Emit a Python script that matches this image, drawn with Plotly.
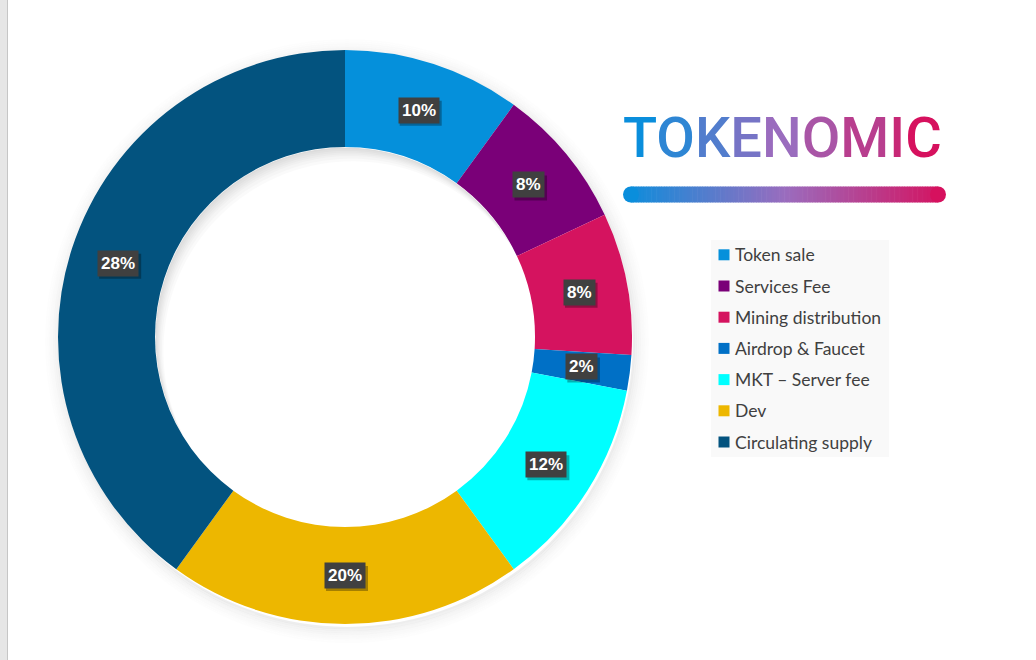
import numpy as np
import plotly.graph_objects as go

# ---------------- data ----------------
categories = ["Token sale", "Services Fee", "Mining distribution", "Airdrop & Faucet",
              "MKT – Server fee", "Dev", "Circulating supply"]
shares = [10, 8, 8, 2, 12, 20, 40]
share_labels = ["10%", "8%", "8%", "2%", "12%", "20%", "28%"]
colors = ["#0590DB", "#7A0078", "#D5135F", "#0070C6", "#00FFFF", "#EDB700", "#03537F"]
title_text = "TOKENOMIC"
gradient_stops = ["#0A8EDC", "#9A6CBE", "#D6115E"]

# ---------------- geometry (pixels) ----------------
W, H = 1036, 660
CX, CY, R_OUT = 345, 337, 287
HOLE = 0.662
R_IN = R_OUT * HOLE
LABEL_SIZE = 17


def hex2rgb(h):
    h = h.lstrip("#")
    return np.array([int(h[i:i + 2], 16) for i in (0, 2, 4)], dtype=float)


def grad(t):
    stops = [hex2rgb(s) for s in gradient_stops]
    seg = t * (len(stops) - 1)
    i = min(int(seg), len(stops) - 2)
    f = seg - i
    c = stops[i] * (1 - f) + stops[i + 1] * f
    return "rgb(%d,%d,%d)" % tuple(np.round(c).astype(int))


def text_width(s, size):
    w = {"%": 0.889}
    return sum(w.get(ch, 0.556) for ch in s) * size


fig = go.Figure()

fig.add_trace(go.Pie(
    labels=categories, values=shares, sort=False, direction="clockwise",
    rotation=0, hole=HOLE, textinfo="none", showlegend=False,
    marker=dict(colors=colors, line=dict(width=0)),
    domain=dict(x=[(CX - R_OUT) / W, (CX + R_OUT) / W],
                y=[(H - CY - R_OUT) / H, (H - CY + R_OUT) / H]),
    hoverinfo="label+percent",
))

shapes = []
annotations = []

# left grey strip
shapes.append(dict(type="rect", xref="x", yref="y", x0=0, x1=7, y0=0, y1=H,
                   fillcolor="#E6E6E6", line=dict(width=0), layer="below"))
shapes.append(dict(type="line", xref="x", yref="y", x0=7.5, x1=7.5, y0=0, y1=H,
                   line=dict(color="#C6C6C6", width=1), layer="below"))

# soft outer shadow of the ring
for k, a in zip(range(0, 16, 2), [0.07, 0.055, 0.045, 0.035, 0.025, 0.018, 0.012, 0.007]):
    r = R_OUT + k
    ox, oy = CX + 2, CY + 4
    shapes.append(dict(type="circle", xref="x", yref="y", x0=ox - r, x1=ox + r,
                       y0=oy - r, y1=oy + r, line=dict(color="rgba(0,0,0,%.3f)" % a, width=2.2),
                       fillcolor="rgba(0,0,0,0)", layer="below"))


# inner shadow in the hole (crescents on the upper-left side)
def crescent(d, r, ang):
    phi0 = np.arccos(min(d / (2 * r), 1.0))
    ta = np.linspace(phi0, 2 * np.pi - phi0, 120)
    pa = np.c_[r * np.cos(ta), r * np.sin(ta)]
    tb = np.linspace(np.pi + phi0, np.pi - phi0, 120)
    pb = np.c_[d + r * np.cos(tb), r * np.sin(tb)]
    pts = np.vstack([pa, pb])
    c, s = np.cos(ang), np.sin(ang)
    x = CX + pts[:, 0] * c - pts[:, 1] * s
    y = CY + pts[:, 0] * s + pts[:, 1] * c
    return "M " + " L ".join("%.2f,%.2f" % (a, b) for a, b in zip(x, y)) + " Z"


for d in [2, 4, 6, 8, 10, 13, 16]:
    shapes.append(dict(type="path", xref="x", yref="y", path=crescent(d, R_IN - 0.5, np.deg2rad(60)),
                       fillcolor="rgba(0,0,0,0.02)", line=dict(width=0), layer="above"))

# data labels on the ring (with a drop shadow box)
total = sum(shares)
cum = np.cumsum([0] + shares[:-1])
r_mid = (R_OUT + R_IN) / 2
for v, c0, lab in zip(shares, cum, share_labels):
    th = 2 * np.pi * (c0 + v / 2) / total
    x = CX + r_mid * np.sin(th)
    y = CY - r_mid * np.cos(th)
    bw = text_width(lab, LABEL_SIZE) + 8
    bhh = 25
    shapes.append(dict(type="rect", xref="x", yref="y",
                       x0=x - bw / 2 + 2, x1=x + bw / 2 + 2, y0=y - bhh / 2 + 3, y1=y + bhh / 2 + 3,
                       fillcolor="rgba(0,0,0,0.30)", line=dict(width=0), layer="above"))
    annotations.append(dict(x=x, y=y, xref="x", yref="y", text="<b>%s</b>" % lab,
                            showarrow=False, bgcolor="#404040", borderpad=3,
                            font=dict(family="Liberation Sans, Arial", size=LABEL_SIZE, color="white")))

# gradient title
n = len(title_text)
title_html = "".join('<span style="color:%s">%s</span>' % (grad(i / (n - 1)), ch)
                     for i, ch in enumerate(title_text))
annotations.append(dict(x=621, y=138, xref="x", yref="y", xanchor="left", yanchor="middle",
                        text=title_html, showarrow=False,
                        font=dict(family="Roboto", size=56, weight=500, color="#0A8EDC")))

# gradient bar under title
bx0, bx1, by, bh = 623, 946, 194.5, 16
rr = bh / 2
nseg = 120
xs = np.linspace(bx0 + rr, bx1 - rr, nseg + 1)
for i in range(nseg):
    t = (xs[i] - bx0) / (bx1 - bx0)
    shapes.append(dict(type="rect", xref="x", yref="y", x0=xs[i] - 0.3, x1=xs[i + 1] + 0.3,
                       y0=by - rr, y1=by + rr, fillcolor=grad(t), line=dict(width=0), layer="above"))
for xc, t in [(bx0 + rr, 0.0), (bx1 - rr, 1.0)]:
    shapes.append(dict(type="circle", xref="x", yref="y", x0=xc - rr, x1=xc + rr,
                       y0=by - rr, y1=by + rr, fillcolor=grad(t), line=dict(width=0), layer="above"))

# legend
lx0, lx1, ly0, ly1 = 711, 889, 240, 457
shapes.append(dict(type="rect", xref="x", yref="y", x0=lx0, x1=lx1, y0=ly0, y1=ly1,
                   fillcolor="#F9F9F9", line=dict(width=0), layer="above"))
step = 31.2
for i, (name, col) in enumerate(zip(categories, colors)):
    yc = 254.8 + i * step
    shapes.append(dict(type="rect", xref="x", yref="y", x0=718.5, x1=729.5, y0=yc - 5.5, y1=yc + 5.5,
                       fillcolor=col, line=dict(width=0), layer="above"))
    annotations.append(dict(x=733, y=yc, xref="x", yref="y", xanchor="left", yanchor="middle",
                            text=name, showarrow=False,
                            font=dict(family="Lato", size=17.5, color="#404040")))

fig.update_layout(
    width=W, height=H, margin=dict(l=0, r=0, t=0, b=0),
    paper_bgcolor="white", plot_bgcolor="white",
    xaxis=dict(range=[0, W], visible=False, fixedrange=True, domain=[0, 1]),
    yaxis=dict(range=[H, 0], visible=False, fixedrange=True, domain=[0, 1]),
    shapes=shapes, annotations=annotations, showlegend=False,
)

fig.write_html("out.html")
